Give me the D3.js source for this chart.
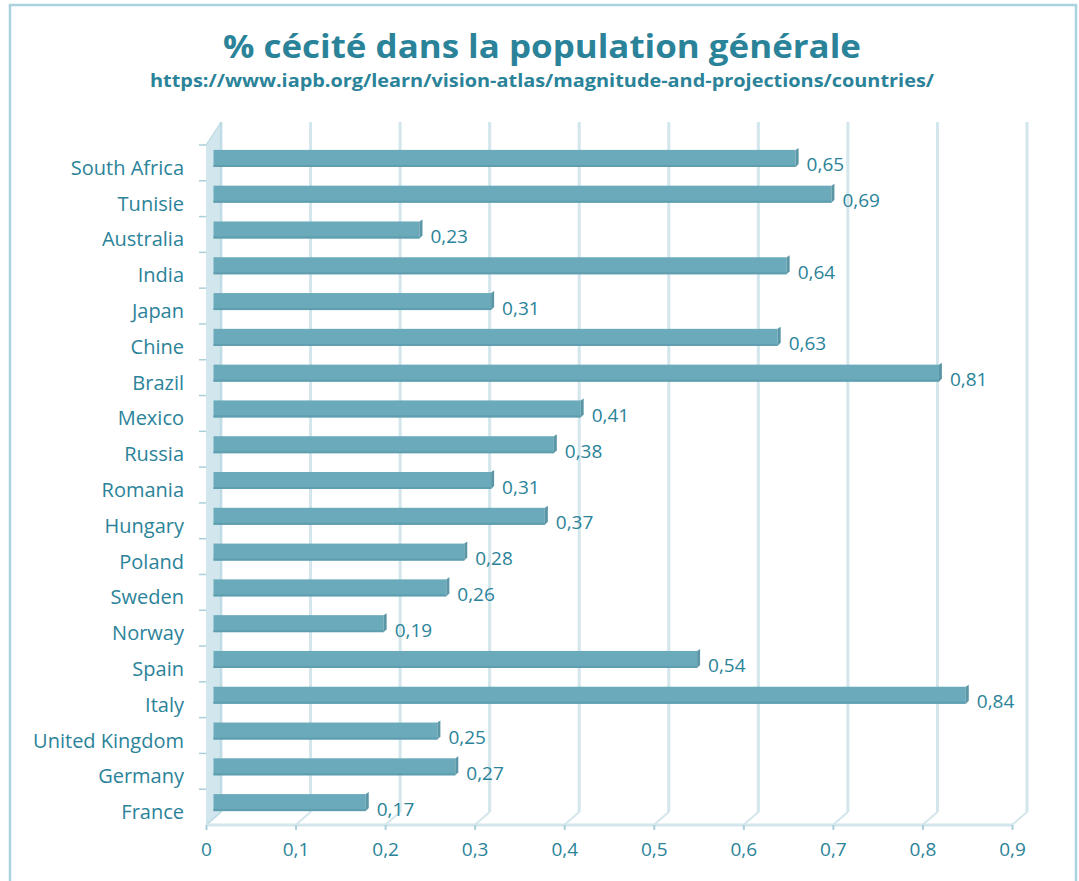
<!DOCTYPE html>
<html>
<head>
<meta charset="utf-8">
<script src="https://cdn.jsdelivr.net/npm/d3@7"></script>
<style>
  body { margin: 0; background: #fff; }
  text { font-family: "Open Sans", sans-serif; }
</style>
</head>
<body>
<div class="chartwrap"></div>
<script>
var width = 1079, height = 881;

// data, top to bottom as in the chart
var categories = ["South Africa", "Tunisie", "Australia", "India", "Japan", "Chine", "Brazil",
    "Mexico", "Russia", "Romania", "Hungary", "Poland", "Sweden", "Norway", "Spain", "Italy",
    "United Kingdom", "Germany", "France"];
var values = [0.65, 0.69, 0.23, 0.64, 0.31, 0.63, 0.81, 0.41, 0.38, 0.31, 0.37, 0.28, 0.26,
    0.19, 0.54, 0.84, 0.25, 0.27, 0.17];
var tickValues = [0, 0.1, 0.2, 0.3, 0.4, 0.5, 0.6, 0.7, 0.8, 0.9];
var tickLabels = ["0", "0,1", "0,2", "0,3", "0,4", "0,5", "0,6", "0,7", "0,8", "0,9"];

var titleText = "% cécité dans la population générale",
    subtitleText = "https://www.iapb.org/learn/vision-atlas/magnitude-and-projections/countries/";

var textcolor = "#2b8399",
    gridcolor = "#d2e6ec",
    barcolor = "#6aaabb";

var depth = {x: 15, y: -13};   // 3d offset of the back wall

var svg = d3.select(".chartwrap").append("svg")
    .attr("width", width)
    .attr("height", height);

// outer frame
svg.append("rect")
    .attr("x", 10).attr("y", 5)
    .attr("width", 1066).attr("height", 890)
    .attr("fill", "none")
    .attr("stroke", "#a9d2de")
    .attr("stroke-width", 2.5);

svg.append("text")
    .attr("x", 542).attr("y", 58)
    .attr("text-anchor", "middle")
    .attr("fill", textcolor)
    .style("font-weight", "bold")
    .style("font-size", "33px")
    .attr("textLength", 638)
    .attr("lengthAdjust", "spacingAndGlyphs")
    .text(titleText);

svg.append("text")
    .attr("x", 542).attr("y", 87)
    .attr("text-anchor", "middle")
    .attr("fill", textcolor)
    .style("font-weight", "bold")
    .style("font-size", "18px")
    .attr("textLength", 784)
    .attr("lengthAdjust", "spacingAndGlyphs")
    .text(subtitleText);

// scales
var x = d3.scaleLinear()
    .domain([0, 0.9])
    .range([206, 1012]);

var y = d3.scaleBand()
    .domain(categories)
    .range([145, 825]);

var floorY = 825;

var g = svg.append("g");

// back wall grid lines + floor diagonals
var grid = g.selectAll(".grid")
    .data(tickValues)
    .enter().append("g")
    .attr("class", "grid");

grid.append("line")
    .attr("x1", function(d) { return x(d) + depth.x; })
    .attr("x2", function(d) { return x(d) + depth.x; })
    .attr("y1", y.range()[0] + depth.y - 10)
    .attr("y2", floorY + depth.y)
    .attr("stroke", gridcolor)
    .attr("stroke-width", 3);

grid.append("line")
    .attr("x1", function(d) { return x(d); })
    .attr("x2", function(d) { return x(d) + depth.x; })
    .attr("y1", floorY)
    .attr("y2", floorY + depth.y)
    .attr("stroke", gridcolor)
    .attr("stroke-width", 2);

// left wall
g.append("path")
    .attr("d", d3.line()([
        [x(0), y.range()[0]],
        [x(0) + depth.x, y.range()[0] + depth.y - 10],
        [x(0) + depth.x, floorY + depth.y],
        [x(0), floorY]
    ]))
    .attr("fill", "#c6e0e8")
    .attr("fill-opacity", 0.8)
    .attr("stroke", "#b3d5df")
    .attr("stroke-width", 1);

// front axis line and ticks
g.append("line")
    .attr("x1", x(0)).attr("x2", x(0.9))
    .attr("y1", floorY).attr("y2", floorY)
    .attr("stroke", gridcolor)
    .attr("stroke-width", 3);

var xAxis = d3.axisBottom(x)
    .tickValues(tickValues)
    .tickFormat(function(d, i) { return tickLabels[i]; })
    .tickSize(5)
    .tickPadding(13);

var yAxis = d3.axisLeft(y)
    .tickSize(0)
    .tickPadding(22);

function customXAxis(sel) {
    sel.call(xAxis);
    sel.select(".domain").remove();
    sel.selectAll(".tick line").attr("stroke", "#a9cfda").attr("stroke-width", 2);
    sel.selectAll(".tick text")
        .attr("fill", textcolor)
        .style("font-size", "19px");
}

function customYAxis(sel) {
    sel.call(yAxis);
    sel.select(".domain").remove();
    sel.selectAll(".tick text")
        .attr("fill", textcolor)
        .attr("dy", "0.6em")
        .style("font-size", "20px");
}

g.append("g")
    .attr("class", "x axis")
    .attr("transform", "translate(0," + floorY + ")")
    .call(customXAxis);

g.append("g")
    .attr("class", "y axis")
    .attr("transform", "translate(" + x(0) + ",0)")
    .call(customYAxis);

// small ticks on the left wall between categories
g.selectAll(".ytick")
    .data(categories)
    .enter().append("line")
    .attr("x1", x(0) - 7).attr("x2", x(0))
    .attr("y1", function(d) { return y(d); })
    .attr("y2", function(d) { return y(d); })
    .attr("stroke", "#a9cfda")
    .attr("stroke-width", 1.5);

// bars (drawn at mid depth)
var barH = 17;
var bx0 = x(0) + depth.x / 2;
function barTop(d) { return y(d) + y.bandwidth() / 2 + depth.y / 2 - barH / 2 + 2; }

var bars = g.selectAll(".bar")
    .data(categories)
    .enter().append("g")
    .attr("class", "bar");

bars.append("rect")
    .attr("x", bx0)
    .attr("y", function(d) { return barTop(d); })
    .attr("width", function(d, i) { return x(values[i]) - x(0); })
    .attr("height", barH)
    .attr("fill", barcolor);

// darker underside
bars.append("rect")
    .attr("x", bx0)
    .attr("y", function(d) { return barTop(d) + barH - 2; })
    .attr("width", function(d, i) { return x(values[i]) - x(0); })
    .attr("height", 2)
    .attr("fill", "#5f9eae");

// end cap
bars.append("path")
    .attr("d", function(d, i) {
        var xe = bx0 + x(values[i]) - x(0), t = barTop(d);
        return d3.line()([[xe, t], [xe + 3, t - 2], [xe + 3, t + barH - 3], [xe, t + barH]]);
    })
    .attr("fill", "#5a96a6");

// value labels
bars.append("text")
    .attr("x", function(d, i) { return bx0 + x(values[i]) - x(0) + 11; })
    .attr("y", function(d) { return barTop(d) + barH / 2 + 13; })
    .attr("fill", textcolor)
    .style("font-size", "19px")
    .text(function(d, i) { return String(values[i]).replace(".", ","); });
</script>
</body>
</html>
